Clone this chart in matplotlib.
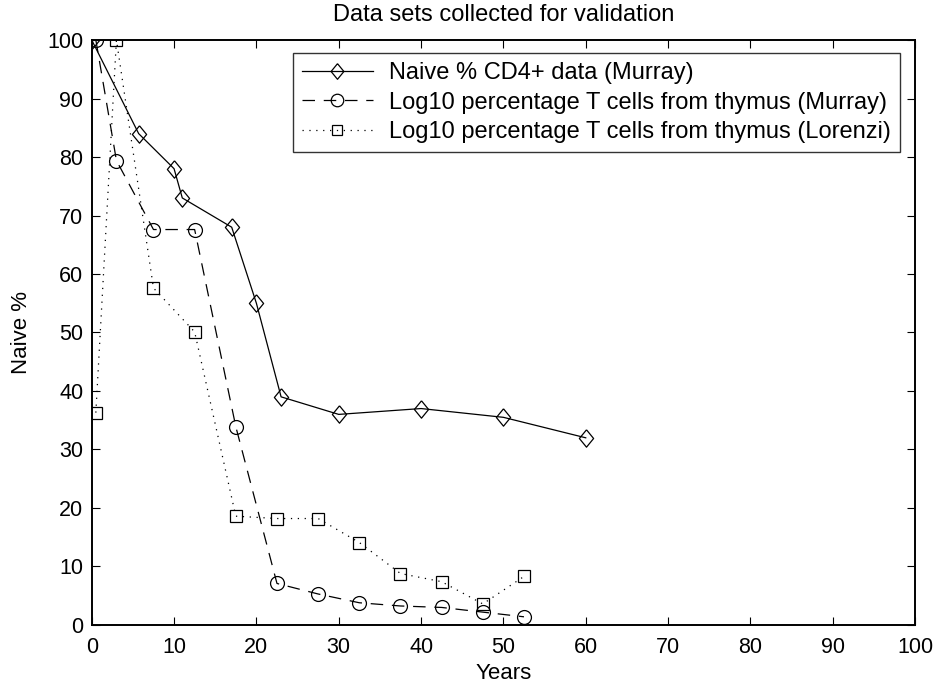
import matplotlib
matplotlib.use("Agg")
import matplotlib.pyplot as plt

plt.rcParams['font.family'] = ['Liberation Sans', 'DejaVu Sans']

# naive % CD4+ (Murray)
years_naive = [0, 5.7, 10, 11, 17, 20, 23, 30, 40, 50, 60]
naive_pct = [100, 84, 78, 73, 68, 55, 39, 36, 37, 35.5, 32]

# thymus output, both sources share the same ages
years_thymus = [0.5, 3, 7.5, 12.5, 17.5, 22.5, 27.5, 32.5, 37.5, 42.5, 47.5, 52.5]
murray_pct = [100, 79.4, 67.6, 67.6, 33.9, 7.1, 5.3, 3.8, 3.25, 3.0, 2.2, 1.4]
lorenzi_pct = [36.3, 100, 57.6, 50.1, 18.6, 18.2, 18.2, 14.1, 8.8, 7.4, 3.6, 8.3]

# matlab style diamond, a bit taller than wide
diamond = [(0, 1), (0.82, 0), (0, -1), (-0.82, 0), (0, 1)]

fig = plt.figure(figsize=(9.35, 6.85), dpi=100)
ax = fig.add_axes([0.0981, 0.0876, 0.8806, 0.854])

ax.plot(years_naive, naive_pct, 'k-', marker=diamond, ms=12.5, mfc='none', mew=0.9, lw=0.9,
        label='Naive % CD4+ data (Murray)')
ax.plot(years_thymus, murray_pct, 'k', ls=(0, (10, 7)), marker='o', ms=10, mfc='none', mew=0.9, lw=0.9,
        label='Log10 percentage T cells from thymus (Murray)')
ax.plot(years_thymus, lorenzi_pct, 'k', ls=(0, (1, 4.5)), marker='s', ms=8, mfc='none', mew=0.9, lw=0.9,
        label='Log10 percentage T cells from thymus (Lorenzi)')

ax.set_xlim(0, 100)
ax.set_ylim(0, 100)
ax.set_xticks(range(0, 101, 10))
ax.set_yticks(range(0, 101, 10))
ax.tick_params(direction='in', top=True, right=True, length=6, width=0.8, labelsize=15.5)
ax.tick_params(axis='x', pad=9)
ax.tick_params(axis='y', pad=6)
for s in ax.spines.values():
    s.set_linewidth(1.4)

ax.set_title('Data sets collected for validation', fontsize=17, pad=13.5)
ax.set_xlabel('Years', fontsize=16)
ax.set_ylabel('Naive %', fontsize=16)
ax.xaxis.set_label_coords(0.5, -0.065)
ax.yaxis.set_label_coords(-0.072, 0.5)

leg = ax.legend(loc='upper right', bbox_to_anchor=(0.9818, 0.978), borderaxespad=0,
                fontsize=17, frameon=True, fancybox=False, edgecolor='black',
                handlelength=3.0, handletextpad=0.7, labelspacing=0.33, borderpad=0.38,
                markerscale=0.9)
leg.get_frame().set_linewidth(1.0)

fig.savefig('out.png', dpi=100)
